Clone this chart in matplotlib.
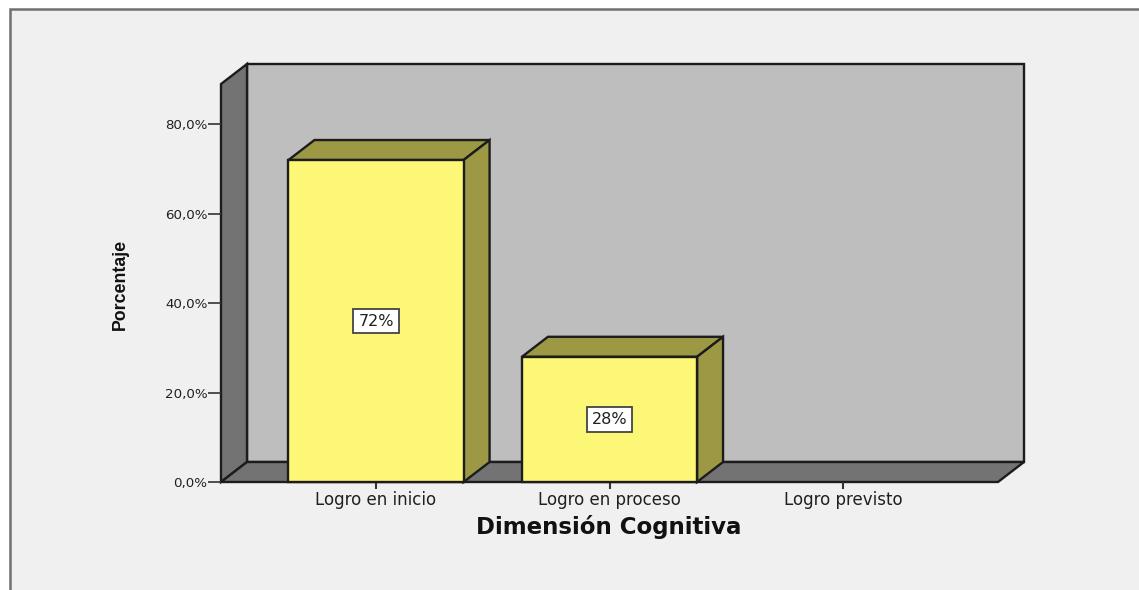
"""Dimension Cognitiva bar chart, SPSS style 3D bars."""

import matplotlib
matplotlib.use("Agg")
import matplotlib.pyplot as plt
from matplotlib.patches import Polygon, Rectangle

categories = ["Logro en inicio", "Logro en proceso", "Logro previsto"]
percentages = [72, 28, 0]
bar_labels = ["72%", "28%", None]
y_ticks = [0, 20, 40, 60, 80]
y_tick_labels = ["0,0%", "20,0%", "40,0%", "60,0%", "80,0%"]

W, H = 1139, 590
DEPTH_X, DEPTH_Y = 26, 20  # depth of the box, in pixels
BAR_WIDTH = 0.75
EDGE = "#1c1c1c"

figure = plt.figure(figsize=(W / 100, H / 100), dpi=100, facecolor="white")
figure.add_artist(Rectangle((10 / W, -0.02), 1.2, 1.02 - 9 / H, transform=figure.transFigure,
                            facecolor="#f0f0f0", edgecolor="#707070", linewidth=1.8, zorder=-1))

axis = figure.add_axes([221 / W, 1 - 482 / H, 777 / W, 398 / H], zorder=1)
axis.set_xlim(-0.664, 2.664)
axis.set_ylim(0, 89)
axis.patch.set_visible(False)
for side in ["top", "right", "left", "bottom"]:
    axis.spines[side].set_visible(False)

x0, x1 = axis.get_xlim()
y0, y1 = axis.get_ylim()
# Depth offset expressed in data units so faces can join front and back corners.
dx = DEPTH_X / 777 * (x1 - x0)
dy = DEPTH_Y / 398 * (y1 - y0)


def box_face(corners, color, zorder=1):
    axis.add_patch(Polygon(corners, closed=True, facecolor=color, edgecolor=EDGE, linewidth=1.7,
                           clip_on=False, zorder=zorder, joinstyle="miter"))


box_face([(x0 + dx, y0 + dy), (x1 + dx, y0 + dy), (x1 + dx, y1 + dy), (x0 + dx, y1 + dy)], "#bebebe")
box_face([(x0, y0), (x0 + dx, y0 + dy), (x0 + dx, y1 + dy), (x0, y1)], "#737373")
box_face([(x0, y0), (x1, y0), (x1 + dx, y0 + dy), (x0 + dx, y0 + dy)], "#737373")

for index, value in enumerate(percentages):
    if value <= 0:
        continue
    left, right = index - BAR_WIDTH / 2, index + BAR_WIDTH / 2
    box_face([(left, value), (right, value), (right + dx, value + dy), (left + dx, value + dy)], "#9c9843", zorder=3)
    box_face([(right, 0), (right + dx, dy), (right + dx, value + dy), (right, value)], "#9c9843", zorder=3)
    axis.bar(index, value, width=BAR_WIDTH, color="#fcf776", edgecolor=EDGE, linewidth=1.7, zorder=4, clip_on=False)
    axis.text(index, value / 2, bar_labels[index], ha="center", va="center", fontsize=11.5,
              family="DejaVu Sans", color="#202020", zorder=5,
              bbox=dict(boxstyle="square,pad=0.3", facecolor="white", edgecolor="#444444", linewidth=1.3))

axis.set_xticks(range(len(categories)), categories, fontsize=12, family="DejaVu Sans", color="#202020")
axis.set_yticks(y_ticks, y_tick_labels, fontsize=9.6, family="DejaVu Sans", color="#202020")
axis.tick_params(axis="x", length=5, width=1.5, color="#333333", pad=1.5)
axis.tick_params(axis="y", length=9.4, width=1.2, color="#333333", pad=0.5)

figure.text(609 / W, 1 - 527 / H, "Dimensión Cognitiva", ha="center", va="center", fontsize=16.5,
            fontweight="bold", family="DejaVu Sans", color="#111111")
figure.text(120 / W, 1 - 284 / H, "Porcentaje", ha="center", va="center", rotation=90, fontsize=12.8,
            fontweight="bold", family="Liberation Sans", color="#111111")

figure.savefig("out.png", dpi=100, facecolor=figure.get_facecolor())
